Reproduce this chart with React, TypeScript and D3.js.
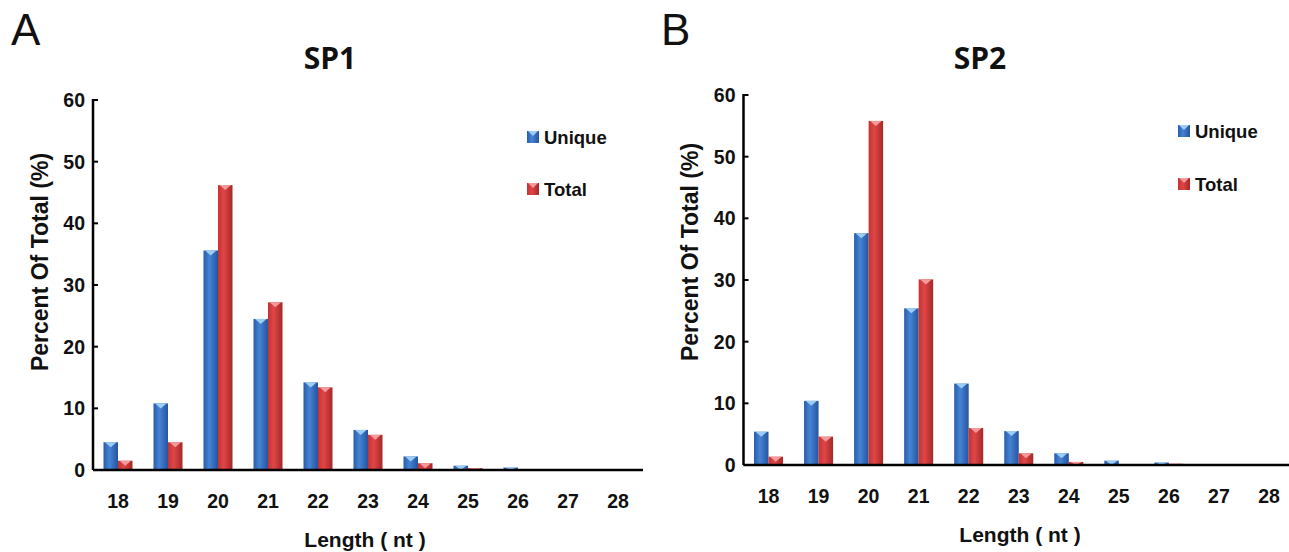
import React from 'react';
import * as d3 from 'd3';

// length classes (nt)
const lengths = ['18', '19', '20', '21', '22', '23', '24', '25', '26', '27', '28'];
const seriesNames = ['Unique', 'Total'];
const yTicks = [0, 10, 20, 30, 40, 50, 60];

// percent of total
const sp1Unique = [4.5, 10.8, 35.6, 24.5, 14.2, 6.5, 2.2, 0.7, 0.4, 0.1, 0.02];
const sp1Total = [1.5, 4.5, 46.2, 27.2, 13.4, 5.7, 1.1, 0.3, 0.05, 0.02, 0];
const sp2Unique = [5.4, 10.4, 37.6, 25.4, 13.2, 5.5, 1.9, 0.7, 0.4, 0.15, 0.02];
const sp2Total = [1.35, 4.6, 55.8, 30.1, 6.0, 1.9, 0.5, 0.05, 0.2, 0.05, 0];

const AXIS_FONT = '"Liberation Sans", Arial, sans-serif';
const TITLE_FONT = '"Open Sans", "Noto Sans", sans-serif';

const fills = ['url(#gradBlue)', 'url(#gradRed)'];
const caps = ['#9ccdf5', '#f59a9a'];

type PanelProps = {
  letter: string;
  title: string;
  unique: number[];
  total: number[];
  axisX: number;
  xEnd: number;
  yZero: number;
  yTop: number;
  letterPos: [number, number];
  titlePos: [number, number];
  legendX: number;
  legendY: [number, number];
  yTitlePos: [number, number];
  xTitlePos: [number, number];
  tickLabelY: number;
};

const Panel = (p: PanelProps) => {
  const x = d3.scaleBand().domain(lengths).range([p.axisX, p.xEnd]).padding(0);
  const bw = x.bandwidth();
  const x1 = d3.scaleBand().domain(seriesNames).range([bw * 0.21, bw * 0.79]).padding(0);
  const y = d3.scaleLinear().domain([0, 60]).range([p.yZero, p.yTop]);
  const values = [p.unique, p.total];

  return (
    <g>
      <text x={p.letterPos[0]} y={p.letterPos[1]} fontFamily={AXIS_FONT} fontSize={44} fill="#111">
        {p.letter}
      </text>
      <text x={p.titlePos[0]} y={p.titlePos[1]} textAnchor="middle" fontFamily={TITLE_FONT}
        fontWeight="bold" fontSize={30} fill="#111">
        {p.title}
      </text>

      {/* bars */}
      {seriesNames.map((s, si) =>
        lengths.map((l, i) => {
          const v = values[si][i];
          const bx = (x(l) as number) + (x1(s) as number);
          const w = x1.bandwidth();
          const top = y(v);
          const h = p.yZero - top;
          if (h <= 0) return null;
          const capH = Math.min(5, h);
          return (
            <g key={s + l}>
              <rect x={bx} y={top} width={w} height={h} fill={fills[si]} />
              <polygon
                points={`${bx + 1.5},${top} ${bx + w - 1.5},${top} ${bx + w / 2},${top + capH}`}
                fill={caps[si]}
              />
            </g>
          );
        })
      )}

      {/* y axis */}
      <line x1={p.axisX} x2={p.axisX} y1={p.yTop - 1} y2={p.yZero} stroke="#000" strokeWidth={2.5} />
      {yTicks.map(t => (
        <g key={t}>
          <line x1={p.axisX} x2={p.axisX + 5} y1={y(t)} y2={y(t)} stroke="#000" strokeWidth={2} />
          <text x={p.axisX - 8} y={y(t)} dy="0.36em" textAnchor="end" fontFamily={AXIS_FONT}
            fontWeight="bold" fontSize={19.5} fill="#111">
            {t}
          </text>
        </g>
      ))}

      {/* x axis */}
      <line x1={p.axisX} x2={p.xEnd} y1={p.yZero} y2={p.yZero} stroke="#000" strokeWidth={2.5} />
      {lengths.map(l => (
        <text key={l} x={(x(l) as number) + bw / 2} y={p.tickLabelY} dy="0.36em" textAnchor="middle"
          fontFamily={AXIS_FONT} fontWeight="bold" fontSize={19.5} fill="#111">
          {l}
        </text>
      ))}

      <text transform={`translate(${p.yTitlePos[0]},${p.yTitlePos[1]}) rotate(-90)`} textAnchor="middle"
        dy="0.36em" fontFamily={AXIS_FONT} fontWeight="bold" fontSize={23} fill="#111">
        Percent Of Total (%)
      </text>
      <text x={p.xTitlePos[0]} y={p.xTitlePos[1]} textAnchor="middle" fontFamily={AXIS_FONT}
        fontWeight="bold" fontSize={21} fill="#111">
        Length ( nt )
      </text>

      {/* legend */}
      {seriesNames.map((s, si) => (
        <g key={s} transform={`translate(${p.legendX},${p.legendY[si]})`}>
          <rect x={0} y={-6} width={12} height={12} fill={fills[si]} />
          <polygon points="1,-6 11,-6 6,-1" fill={caps[si]} />
          <text x={17} y={0} dy="0.36em" fontFamily={AXIS_FONT} fontWeight="bold" fontSize={18.5} fill="#111">
            {s}
          </text>
        </g>
      ))}
    </g>
  );
};

export default function App() {
  return (
    <svg width={1289} height={552} style={{ position: 'absolute', left: 0, top: 0, background: '#fff' }}>
      <defs>
        <linearGradient id="gradBlue" x1="0" x2="1" y1="0" y2="0">
          <stop offset="0" stopColor="#2a5caa" />
          <stop offset="0.4" stopColor="#4584d4" />
          <stop offset="1" stopColor="#2754a0" />
        </linearGradient>
        <linearGradient id="gradRed" x1="0" x2="1" y1="0" y2="0">
          <stop offset="0" stopColor="#c53333" />
          <stop offset="0.4" stopColor="#e04646" />
          <stop offset="1" stopColor="#a52828" />
        </linearGradient>
      </defs>
      <rect width={1289} height={552} fill="#fff" />
      <Panel
        letter="A" title="SP1" unique={sp1Unique} total={sp1Total}
        axisX={93} xEnd={643} yZero={470} yTop={100}
        letterPos={[11, 45]} titlePos={[330, 69]}
        legendX={527} legendY={[137, 189]}
        yTitlePos={[40, 262]} xTitlePos={[365, 547]} tickLabelY={501}
      />
      <Panel
        letter="B" title="SP2" unique={sp2Unique} total={sp2Total}
        axisX={743.5} xEnd={1294} yZero={465} yTop={95}
        letterPos={[661, 45]} titlePos={[980, 69]}
        legendX={1178} legendY={[131, 184]}
        yTitlePos={[690, 252]} xTitlePos={[1020, 542]} tickLabelY={496}
      />
    </svg>
  );
}
